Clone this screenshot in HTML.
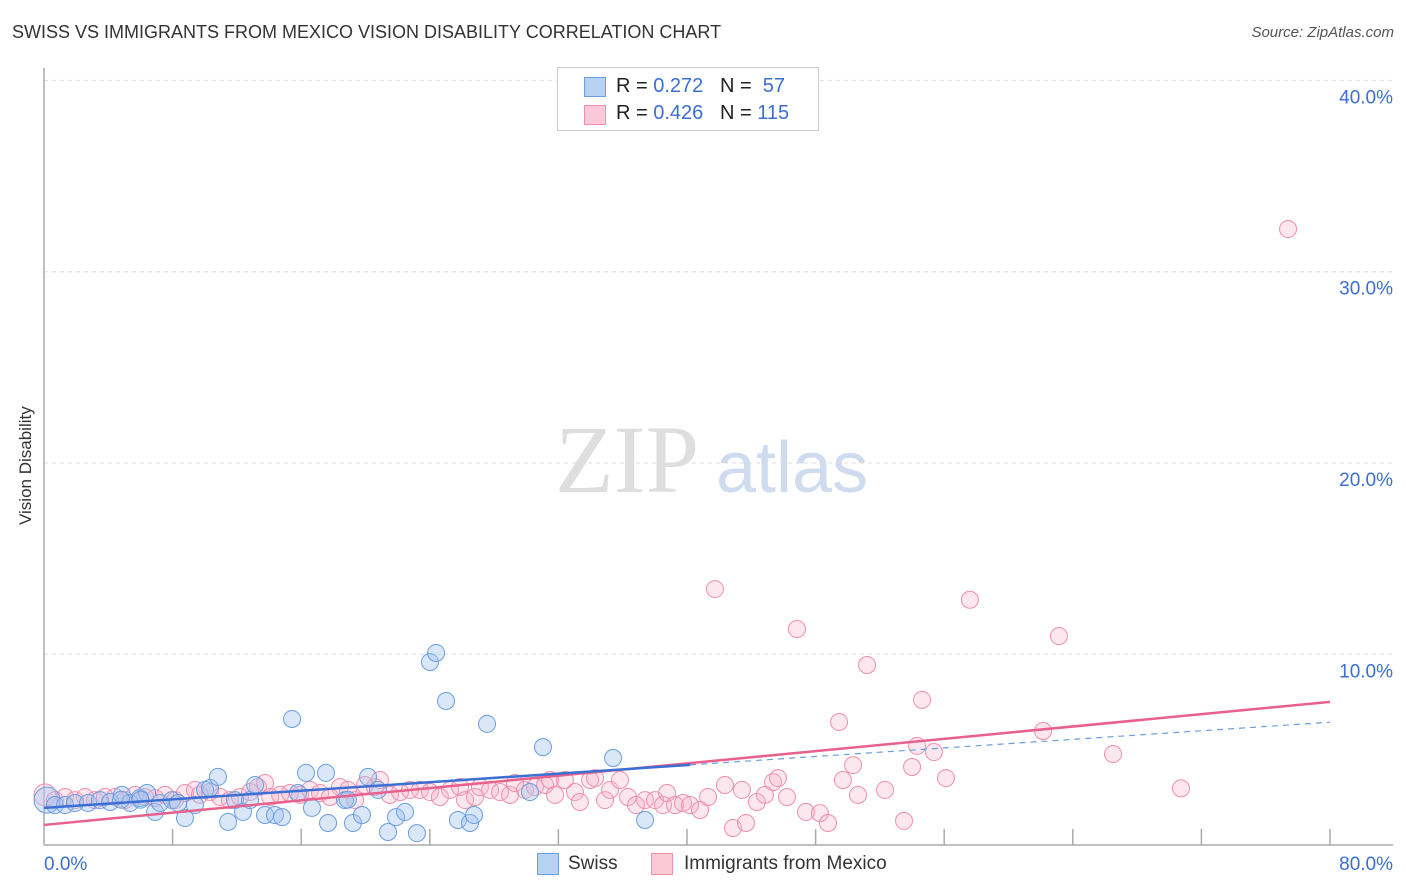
<!DOCTYPE html>
<html><head><meta charset="utf-8">
<style>
body{margin:0;background:#fff;font-family:"Liberation Sans",sans-serif;}
#wrap{position:relative;width:1406px;height:892px;overflow:hidden;}
.t{position:absolute;white-space:nowrap;}
</style></head>
<body>
<div id="wrap">
<div class="t" style="left:12px;top:22px;font-size:18px;color:#333;">SWISS VS IMMIGRANTS FROM MEXICO VISION DISABILITY CORRELATION CHART</div>
<div class="t" style="right:12px;top:24px;font-size:15px;color:#555;font-style:italic;">Source: ZipAtlas.com</div>
<div class="t" style="font-size:17px;color:#333;transform:rotate(-90deg);transform-origin:0 0;top:525px;left:16px;">Vision Disability</div>
<svg id="plot" width="1406" height="892" style="position:absolute;left:0;top:0">
<text x="555" y="492" font-family="Liberation Serif,serif" font-size="96" fill="#dedede">ZIP</text>
<text x="716" y="492" font-family="Liberation Sans,sans-serif" font-size="72" fill="#cfdcef">atlas</text>
</svg>
<div class="t" style="left:557px;top:67px;width:260px;height:62px;border:1px solid #ccc;background:#fff;">
 <div style="position:absolute;left:26px;top:9px;width:20px;height:18px;background:#b8d2f4;border:1px solid #6a9ee0;"></div>
 <div class="t" style="left:58px;top:7px;font-size:20px;color:#222;">R = <span style="color:#3b6fd4">0.272</span>&nbsp;&nbsp;&nbsp;N = &nbsp;<span style="color:#3b6fd4">57</span></div>
 <div style="position:absolute;left:26px;top:37px;width:20px;height:18px;background:#f9c9d7;border:1px solid #ef8fab;"></div>
 <div class="t" style="left:58px;top:34px;font-size:20px;color:#222;">R = <span style="color:#3b6fd4">0.426</span>&nbsp;&nbsp;&nbsp;N = <span style="color:#3b6fd4">115</span></div>
</div>
<div style="position:absolute;left:537px;top:853px;width:20px;height:20px;background:#b8d2f4;border:1px solid #6a9ee0;"></div>
<div class="t" style="left:568px;top:853px;font-size:19px;color:#333;">Swiss</div>
<div style="position:absolute;left:651px;top:853px;width:20px;height:20px;background:#f9c9d7;border:1px solid #ef8fab;"></div>
<div class="t" style="left:684px;top:853px;font-size:19px;color:#333;">Immigrants from Mexico</div>
</div>
<script>
const xTicks=[8,16,24,32,40,48,56,64,72,80];
const yTicks=[10,20,30,40];
const yTickLabels=["10.0%","20.0%","30.0%","40.0%"];
const xEndLabels=["0.0%","80.0%"];
const swissX=[0.19,0.68,1.31,1.93,2.74,3.48,4.11,4.85,5.35,5.97,6.41,6.91,7.22,7.96,8.34,8.77,9.39,10.02,10.33,10.82,11.45,11.88,12.38,12.82,13.13,13.75,14.37,14.81,15.43,15.80,16.30,16.67,17.54,17.67,18.72,19.22,19.78,20.16,20.78,21.40,21.90,22.46,23.20,24.01,24.39,25.01,25.75,26.50,26.75,27.56,30.23,31.04,35.40,37.39,4.8,6.0,18.9];
const swissY=[2.38,2.12,2.12,2.23,2.23,2.38,2.28,2.65,2.23,2.49,2.75,1.76,2.23,2.38,2.23,1.44,2.12,2.91,3.01,3.59,1.24,2.38,1.76,2.38,3.17,1.60,1.60,1.49,6.62,2.75,3.80,1.97,3.80,1.18,2.38,1.18,1.60,3.59,2.91,0.71,1.49,1.76,0.65,9.60,10.07,7.56,1.34,1.18,1.60,6.36,2.80,5.15,4.58,1.34,2.4,2.4,2.4];
const mexX=[0.06,0.68,1.31,1.93,2.55,3.17,3.79,4.42,5.04,5.66,6.28,6.91,7.53,8.15,8.77,9.39,9.70,10.33,10.95,11.57,12.19,12.82,13.31,13.75,14.07,14.69,15.30,15.93,16.55,17.17,17.79,18.41,18.91,19.35,19.97,20.59,20.90,21.52,22.15,22.77,23.39,24.01,24.63,25.26,25.88,26.19,26.81,27.12,27.75,28.37,28.99,29.30,29.92,30.54,31.17,31.48,31.79,32.41,33.03,33.34,33.97,34.28,34.90,35.21,35.83,36.33,36.83,37.39,38.01,38.51,38.76,39.25,39.75,40.19,40.81,41.31,41.74,42.36,42.86,43.42,43.67,44.35,44.85,45.35,45.66,46.22,46.84,47.40,48.27,48.77,49.46,49.70,50.33,50.64,51.20,52.32,53.50,54.00,54.31,54.62,55.36,56.11,57.60,62.15,63.14,66.50,70.73,77.39];
const mexY=[2.65,2.38,2.54,2.38,2.54,2.38,2.54,2.54,2.38,2.65,2.54,2.49,2.65,2.38,2.75,2.91,2.65,2.80,2.54,2.38,2.54,2.80,3.06,3.27,2.54,2.65,2.75,2.65,2.91,2.75,2.54,3.06,2.91,2.38,3.17,3.06,3.43,2.65,2.80,2.91,2.91,2.80,2.54,2.91,3.06,2.38,2.54,3.06,2.91,2.80,2.65,3.27,2.91,3.06,3.17,3.43,2.65,3.43,2.80,2.28,3.43,3.53,2.38,2.91,3.43,2.54,2.12,2.38,2.38,2.12,2.75,2.12,2.23,2.12,1.86,2.54,13.41,3.17,0.92,2.91,1.18,2.28,2.65,3.32,3.53,2.54,11.32,1.76,1.70,1.18,6.46,3.43,4.21,2.65,9.44,2.91,1.29,4.11,5.21,7.62,4.89,3.53,12.85,5.99,10.95,4.79,2.99,32.23];
const swissFit=[1.97,0.056];
const mexFit=[1.08,0.0804];
const X0=44,X1=1330,Y0=845.6,YS=19.13;
function sx(v){return X0+(X1-X0)*v/80;}
function sy(v){return Y0-v*YS;}
const svg=document.getElementById('plot');
const NS='http://www.w3.org/2000/svg';
function mk(tag,attrs){const e=document.createElementNS(NS,tag);for(const k in attrs)e.setAttribute(k,attrs[k]);svg.appendChild(e);return e;}
yTicks.forEach((t,i)=>{
 const g=mk('line',{x1:X0,x2:1393,y1:sy(t),y2:sy(t),stroke:'#ddd','stroke-dasharray':'4,4'});
 
 
 const l=mk('text',{x:1393,y:sy(t)+23,'text-anchor':'end','font-size':19,fill:'#3b6fd4','font-family':'Liberation Sans,sans-serif'});
 l.textContent=yTickLabels[i];
 
 
});
const ax=mk('line',{x1:X0,x2:X0,y1:68,y2:845,stroke:'#aaa','stroke-width':1.5});


const bx=mk('line',{x1:X0,x2:X1+63,y1:845,y2:845,stroke:'#aaa','stroke-width':1.5});


xTicks.forEach(t=>{
 const k=mk('line',{x1:sx(t),x2:sx(t),y1:829,y2:845,stroke:'#aaa','stroke-width':1.5});
 
 
});
const xl0=mk('text',{x:44,y:870,'font-size':19,fill:'#3b6fd4','font-family':'Liberation Sans,sans-serif'});
xl0.textContent=xEndLabels[0];


const xl1=mk('text',{x:1393,y:870,'text-anchor':'end','font-size':19,fill:'#3b6fd4','font-family':'Liberation Sans,sans-serif'});
xl1.textContent=xEndLabels[1];


mexX.forEach((x,i)=>{
 const c=mk('circle',{cx:sx(x),cy:sy(mexY[i]),r:(i===0?11:8.5),fill:'rgba(248,175,198,0.3)',stroke:'#ef8fab','stroke-width':1});
 
 
});
swissX.forEach((x,i)=>{
 const c=mk('circle',{cx:sx(x),cy:sy(swissY[i]),r:(i===0?13:8.5),fill:'rgba(160,196,240,0.4)',stroke:'#6a9ee0','stroke-width':1});
 
 
});
const pl=mk('line',{x1:sx(0),y1:sy(mexFit[0]),x2:sx(80),y2:sy(mexFit[0]+mexFit[1]*80),stroke:'#e8608c','stroke-width':2.5});


const bl=mk('line',{x1:sx(0),y1:sy(swissFit[0]),x2:sx(40.2),y2:sy(swissFit[0]+swissFit[1]*40.2),stroke:'#3b6fd4','stroke-width':2.5});


const bd=mk('line',{x1:sx(40.2),y1:sy(swissFit[0]+swissFit[1]*40.2),x2:sx(80),y2:sy(swissFit[0]+swissFit[1]*80),stroke:'#6a9ee0','stroke-width':1.2,'stroke-dasharray':'6,5'});


</script>
</body></html>
